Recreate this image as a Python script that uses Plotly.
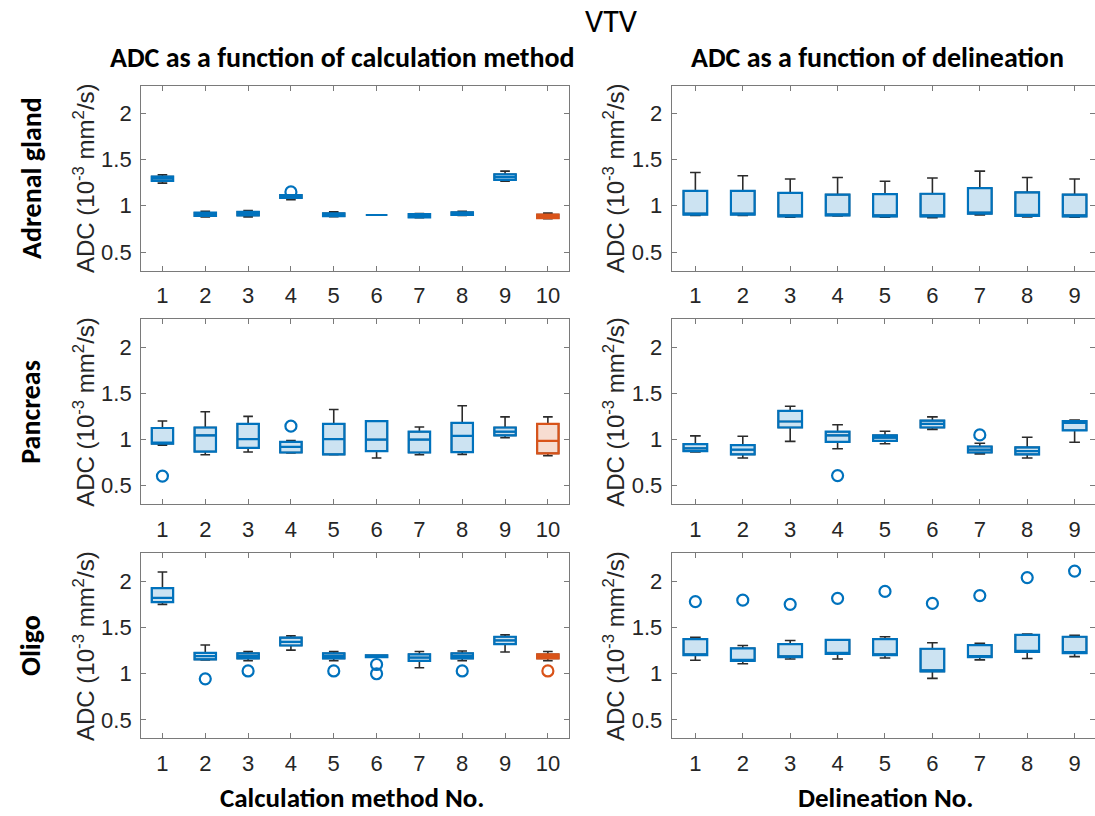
import plotly.graph_objects as go
from plotly.subplots import make_subplots

# Category positions
methods = [1, 2, 3, 4, 5, 6, 7, 8, 9, 10]
delineations = [1, 2, 3, 4, 5, 6, 7, 8, 9]
y_tick_vals = [0.5, 1, 1.5, 2]
y_tick_text = ["0.5", "1", "1.5", "2"]

# ---- Adrenal gland, ADC vs calculation method ----
adr_m_lo = [1.245, 0.88, 0.88, 1.065, 0.882, 0.90, 0.87, 0.895, 1.265, 0.86]
adr_m_q1 = [1.27, 0.89, 0.895, 1.085, 0.888, 0.90, 0.875, 0.90, 1.28, 0.865]
adr_m_med = [1.295, 0.905, 0.912, 1.10, 0.903, 0.90, 0.89, 0.912, 1.31, 0.885]
adr_m_q3 = [1.315, 0.925, 0.935, 1.115, 0.918, 0.90, 0.91, 0.928, 1.34, 0.905]
adr_m_hi = [1.335, 0.94, 0.948, 1.115, 0.935, 0.90, 0.915, 0.94, 1.375, 0.92]
adr_m_out_x = [4]
adr_m_out_y = [1.15]

# ---- Adrenal gland, ADC vs delineation ----
adr_d_lo = [0.895, 0.895, 0.875, 0.89, 0.877, 0.87, 0.90, 0.88, 0.875]
adr_d_q1 = [0.905, 0.905, 0.885, 0.895, 0.885, 0.885, 0.915, 0.89, 0.885]
adr_d_med = [0.915, 0.915, 0.895, 0.905, 0.893, 0.895, 0.925, 0.90, 0.895]
adr_d_q3 = [1.16, 1.16, 1.14, 1.12, 1.125, 1.13, 1.19, 1.145, 1.12]
adr_d_hi = [1.36, 1.325, 1.29, 1.305, 1.265, 1.30, 1.375, 1.305, 1.29]
adr_d_out_x = []
adr_d_out_y = []

# ---- Pancreas, ADC vs calculation method ----
pan_m_lo = [0.94, 0.835, 0.865, 0.855, 0.835, 0.80, 0.835, 0.84, 1.02, 0.825]
pan_m_q1 = [0.955, 0.87, 0.91, 0.86, 0.84, 0.875, 0.86, 0.865, 1.045, 0.85]
pan_m_med = [0.965, 1.045, 1.005, 0.92, 1.005, 1.0, 1.0, 1.04, 1.085, 0.985]
pan_m_q3 = [1.125, 1.13, 1.17, 0.975, 1.17, 1.2, 1.085, 1.18, 1.13, 1.17]
pan_m_hi = [1.20, 1.30, 1.25, 0.99, 1.325, 1.2, 1.135, 1.365, 1.245, 1.245]
pan_m_out_x = [1, 4]
pan_m_out_y = [0.605, 1.145]

# ---- Pancreas, ADC vs delineation ----
pan_d_lo = [0.865, 0.80, 0.98, 0.90, 0.955, 1.11, 0.845, 0.80, 0.97]
pan_d_q1 = [0.875, 0.84, 1.13, 0.975, 0.985, 1.13, 0.86, 0.84, 1.10]
pan_d_med = [0.905, 0.89, 1.195, 1.045, 1.02, 1.17, 0.89, 0.875, 1.18]
pan_d_q3 = [0.95, 0.94, 1.31, 1.085, 1.045, 1.205, 0.925, 0.915, 1.20]
pan_d_hi = [1.04, 1.035, 1.36, 1.16, 1.09, 1.245, 0.96, 1.025, 1.21]
pan_d_out_x = [4, 7]
pan_d_out_y = [0.61, 1.05]

# ---- Oligo, ADC vs calculation method ----
oli_m_lo = [1.75, 1.148, 1.14, 1.255, 1.14, 1.18, 1.065, 1.14, 1.235, 1.14]
oli_m_q1 = [1.775, 1.155, 1.165, 1.305, 1.165, 1.18, 1.14, 1.165, 1.32, 1.165]
oli_m_med = [1.82, 1.19, 1.19, 1.345, 1.19, 1.19, 1.175, 1.19, 1.36, 1.19]
oli_m_q3 = [1.925, 1.225, 1.22, 1.39, 1.22, 1.20, 1.21, 1.22, 1.40, 1.21]
oli_m_hi = [2.10, 1.31, 1.24, 1.41, 1.24, 1.20, 1.24, 1.245, 1.42, 1.24]
oli_m_out_x = [2, 3, 5, 6, 6, 8, 10]
oli_m_out_y = [0.945, 1.03, 1.03, 1.10, 1.0, 1.03, 1.03]

# ---- Oligo, ADC vs delineation ----
oli_d_lo = [1.145, 1.108, 1.16, 1.16, 1.17, 0.95, 1.15, 1.165, 1.185]
oli_d_q1 = [1.20, 1.14, 1.178, 1.215, 1.20, 1.025, 1.18, 1.237, 1.222]
oli_d_med = [1.21, 1.15, 1.185, 1.22, 1.21, 1.035, 1.19, 1.245, 1.23]
oli_d_q3 = [1.375, 1.275, 1.32, 1.365, 1.375, 1.27, 1.31, 1.42, 1.40]
oli_d_hi = [1.395, 1.305, 1.36, 1.365, 1.40, 1.335, 1.33, 1.43, 1.415]
oli_d_out_x = [1, 2, 3, 4, 5, 6, 7, 8, 9]
oli_d_out_y = [1.78, 1.795, 1.75, 1.815, 1.89, 1.76, 1.845, 2.04, 2.11]

# Colours
BLUE = "#0072BD"
BLUE_FILL = "rgba(0,114,189,0.2)"
ORANGE = "#D95319"
ORANGE_FILL = "rgba(217,83,25,0.2)"
WHISKER = "#2b2b2b"
AXIS = "#7a7a7a"
TEXT = "#262626"

SANS = "Arial, 'Liberation Sans', sans-serif"
TICK_FONT = dict(family=SANS, size=22, color=TEXT)
TITLE_FAMILY = "Carlito, Lato, sans-serif"

fig = make_subplots(rows=3, cols=2)

# Panel placement in paper coordinates
col_domains = {1: [0.1288, 0.5199], 2: [0.6134, 1.0]}
row_domains = {1: [0.6685, 0.8952], 2: [0.3820, 0.6087], 3: [0.0950, 0.3217]}
col_xrange = {1: [0.5, 10.5], 2: [0.5, 9.43]}


def add_boxes(row, col, xs, lo, q1, med, q3, hi, edge, fill):
    # whiskers with caps, drawn underneath
    fig.add_trace(go.Box(
        x=xs, q1=q1, median=med, q3=q3, lowerfence=lo, upperfence=hi,
        width=0.5, whiskerwidth=0.45, fillcolor="rgba(0,0,0,0)",
        line=dict(color=WHISKER, width=1.6), boxpoints=False,
        hoverinfo="skip", showlegend=False,
    ), row=row, col=col)
    # coloured box body and median
    fig.add_trace(go.Box(
        x=xs, q1=q1, median=med, q3=q3, lowerfence=q1, upperfence=q3,
        width=0.5, whiskerwidth=0, fillcolor=fill,
        line=dict(color=edge, width=2.2), boxpoints=False,
        hoverinfo="skip", showlegend=False,
    ), row=row, col=col)


def add_outliers(row, col, ox, oy, color):
    if not ox:
        return
    fig.add_trace(go.Scatter(
        x=ox, y=oy, mode="markers",
        marker=dict(symbol="circle-open", size=11, color=color,
                    line=dict(width=2.2, color=color)),
        hoverinfo="skip", showlegend=False,
    ), row=row, col=col)


def add_method_panel(row, lo, q1, med, q3, hi, ox, oy):
    n = len(methods) - 1
    add_boxes(row, 1, methods[:n], lo[:n], q1[:n], med[:n], q3[:n], hi[:n], BLUE, BLUE_FILL)
    add_boxes(row, 1, methods[n:], lo[n:], q1[n:], med[n:], q3[n:], hi[n:], ORANGE, ORANGE_FILL)
    bx = [x for x in ox if x != methods[-1]]
    by = [y for x, y in zip(ox, oy) if x != methods[-1]]
    rx = [x for x in ox if x == methods[-1]]
    ry = [y for x, y in zip(ox, oy) if x == methods[-1]]
    add_outliers(row, 1, bx, by, BLUE)
    add_outliers(row, 1, rx, ry, ORANGE)


def add_delineation_panel(row, lo, q1, med, q3, hi, ox, oy):
    add_boxes(row, 2, delineations, lo, q1, med, q3, hi, BLUE, BLUE_FILL)
    add_outliers(row, 2, ox, oy, BLUE)


add_method_panel(1, adr_m_lo, adr_m_q1, adr_m_med, adr_m_q3, adr_m_hi, adr_m_out_x, adr_m_out_y)
add_delineation_panel(1, adr_d_lo, adr_d_q1, adr_d_med, adr_d_q3, adr_d_hi, adr_d_out_x, adr_d_out_y)
add_method_panel(2, pan_m_lo, pan_m_q1, pan_m_med, pan_m_q3, pan_m_hi, pan_m_out_x, pan_m_out_y)
add_delineation_panel(2, pan_d_lo, pan_d_q1, pan_d_med, pan_d_q3, pan_d_hi, pan_d_out_x, pan_d_out_y)
add_method_panel(3, oli_m_lo, oli_m_q1, oli_m_med, oli_m_q3, oli_m_hi, oli_m_out_x, oli_m_out_y)
add_delineation_panel(3, oli_d_lo, oli_d_q1, oli_d_med, oli_d_q3, oli_d_hi, oli_d_out_x, oli_d_out_y)

for r in (1, 2, 3):
    for c in (1, 2):
        cats = methods if c == 1 else delineations
        fig.update_xaxes(
            domain=col_domains[c], range=col_xrange[c],
            tickvals=cats, ticktext=[str(v) for v in cats],
            ticks="inside", ticklen=5, tickcolor=AXIS, tickwidth=1,
            showline=True, linecolor=AXIS, linewidth=1, mirror="ticks",
            showgrid=False, zeroline=False, tickfont=TICK_FONT,
            ticklabelstandoff=5, fixedrange=True,
            row=r, col=c,
        )
        fig.update_yaxes(
            domain=row_domains[r], range=[0.3, 2.3],
            tickvals=y_tick_vals, ticktext=y_tick_text,
            ticks="inside", ticklen=5, tickcolor=AXIS, tickwidth=1,
            showline=True, linecolor=AXIS, linewidth=1, mirror="ticks",
            showgrid=False, zeroline=False, tickfont=TICK_FONT,
            ticklabelstandoff=4, fixedrange=True,
            row=r, col=c,
        )

annotations = []


def note(text, x, y, size, bold=False, angle=0, family=TITLE_FAMILY, color="#000000"):
    annotations.append(dict(
        text=f"<b>{text}</b>" if bold else text,
        x=x, y=y, xref="paper", yref="paper",
        xanchor="center", yanchor="middle", showarrow=False,
        textangle=angle, font=dict(family=family, size=size, color=color),
    ))


note("VTV", 611 / 1095, 1 - 21 / 816, 32)
note("ADC as a function of calculation method", 342 / 1095, 1 - 58 / 816, 28, bold=True)
note("ADC as a function of delineation", 877 / 1095, 1 - 58 / 816, 28, bold=True)
note("Calculation method No.", 352 / 1095, 1 - 797 / 816, 27, bold=True)
note("Delineation No.", 885 / 1095, 1 - 797 / 816, 27, bold=True)

row_names = ["Adrenal gland", "Pancreas", "Oligo"]
for r, name in zip((1, 2, 3), row_names):
    yc = sum(row_domains[r]) / 2
    note(name, 31 / 1095, yc, 28, bold=True, angle=-90)
    for xpix in (84, 614):
        note("ADC (10<sup>-3</sup> mm<sup>2</sup>/s)", xpix / 1095, yc, 24,
             angle=-90, family=SANS, color=TEXT)

fig.update_layout(
    width=1095, height=816,
    margin=dict(l=0, r=0, t=0, b=0),
    paper_bgcolor="white", plot_bgcolor="white",
    boxmode="overlay",
    annotations=annotations,
    showlegend=False,
)

fig.write_html("out.html", config={"displayModeBar": False})
